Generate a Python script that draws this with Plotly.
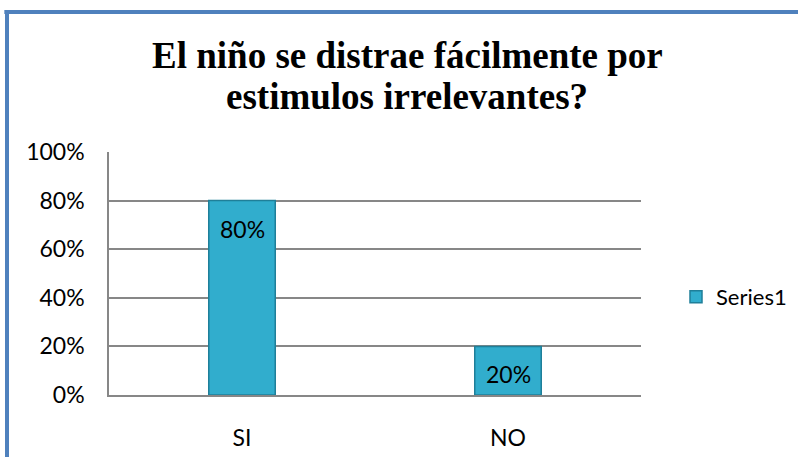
import plotly.graph_objects as go

categories = ["SI", "NO"]
values = [0.80, 0.20]
labels = ["80%", "20%"]
series_name = "Series1"
title_lines = ["El niño se distrae fácilmente por", "estimulos irrelevantes?"]

W, H = 798, 457
L, T = 109, 152
PW, PH = 532, 243

fig = go.Figure()
fig.add_trace(go.Bar(
    x=categories, y=values, name=series_name,
    marker=dict(color="#31ADCD", line=dict(color="#1F7F99", width=1.5)),
    showlegend=True,
))
for c, v, t in zip(categories, values, labels):
    fig.add_annotation(x=c, y=v, text=t, showarrow=False, yshift=-28,
                       font=dict(family="Lato", size=23, color="black"))

# two-line title (line spacing tighter than plotly's default)
title_base = [69, 110]  # baselines in px from top
for line, b in zip(title_lines, title_base):
    top_px = b - 36
    fig.add_annotation(xref="paper", yref="paper", x=(407 - L) / PW, y=1 + (T - top_px) / PH,
                       xanchor="center", yanchor="top", showarrow=False, text="<b>" + line + "</b>",
                       font=dict(family="Liberation Serif", size=37, color="black"))

fig.update_layout(
    width=W, height=H,
    paper_bgcolor="white", plot_bgcolor="white",
    margin=dict(l=L, r=W - L - PW, t=T, b=H - T - PH, autoexpand=False),
    bargap=0.75,
    legend=dict(xref="container", yref="container", x=676 / W, xanchor="left",
                y=1 - 297 / H, yanchor="middle",
                font=dict(family="Lato", size=22, color="black"),
                itemwidth=30),
    showlegend=True,
)
fig.update_yaxes(range=[0, 1], dtick=0.2, tickformat=".0%", automargin=False,
                 showgrid=True, gridcolor="#878787", gridwidth=1.5,
                 showline=True, linecolor="#878787", linewidth=1.5,
                 tickfont=dict(family="Lato", size=23, color="black"),
                 ticklabelstandoff=18, zeroline=False)
fig.update_xaxes(showline=True, linecolor="#878787", linewidth=1.5, automargin=False,
                 tickfont=dict(family="Lato", size=23, color="black"),
                 ticklabelstandoff=22)

# chart frame (blue border top and left)
top_y = 1.0 + (T - 12) / PH
left_x = -(L - 7) / PW
fig.add_shape(type="line", xref="paper", yref="paper", x0=left_x - 0.005, x1=1.4, y0=top_y, y1=top_y,
              line=dict(color="#4F81BD", width=4))
fig.add_shape(type="line", xref="paper", yref="paper", x0=left_x, x1=left_x, y0=top_y, y1=-0.4,
              line=dict(color="#4F81BD", width=4))

fig.write_html("out.html", config={"displayModeBar": False},
               post_script="document.body.style.margin='0px';document.body.style.overflow='hidden';")
